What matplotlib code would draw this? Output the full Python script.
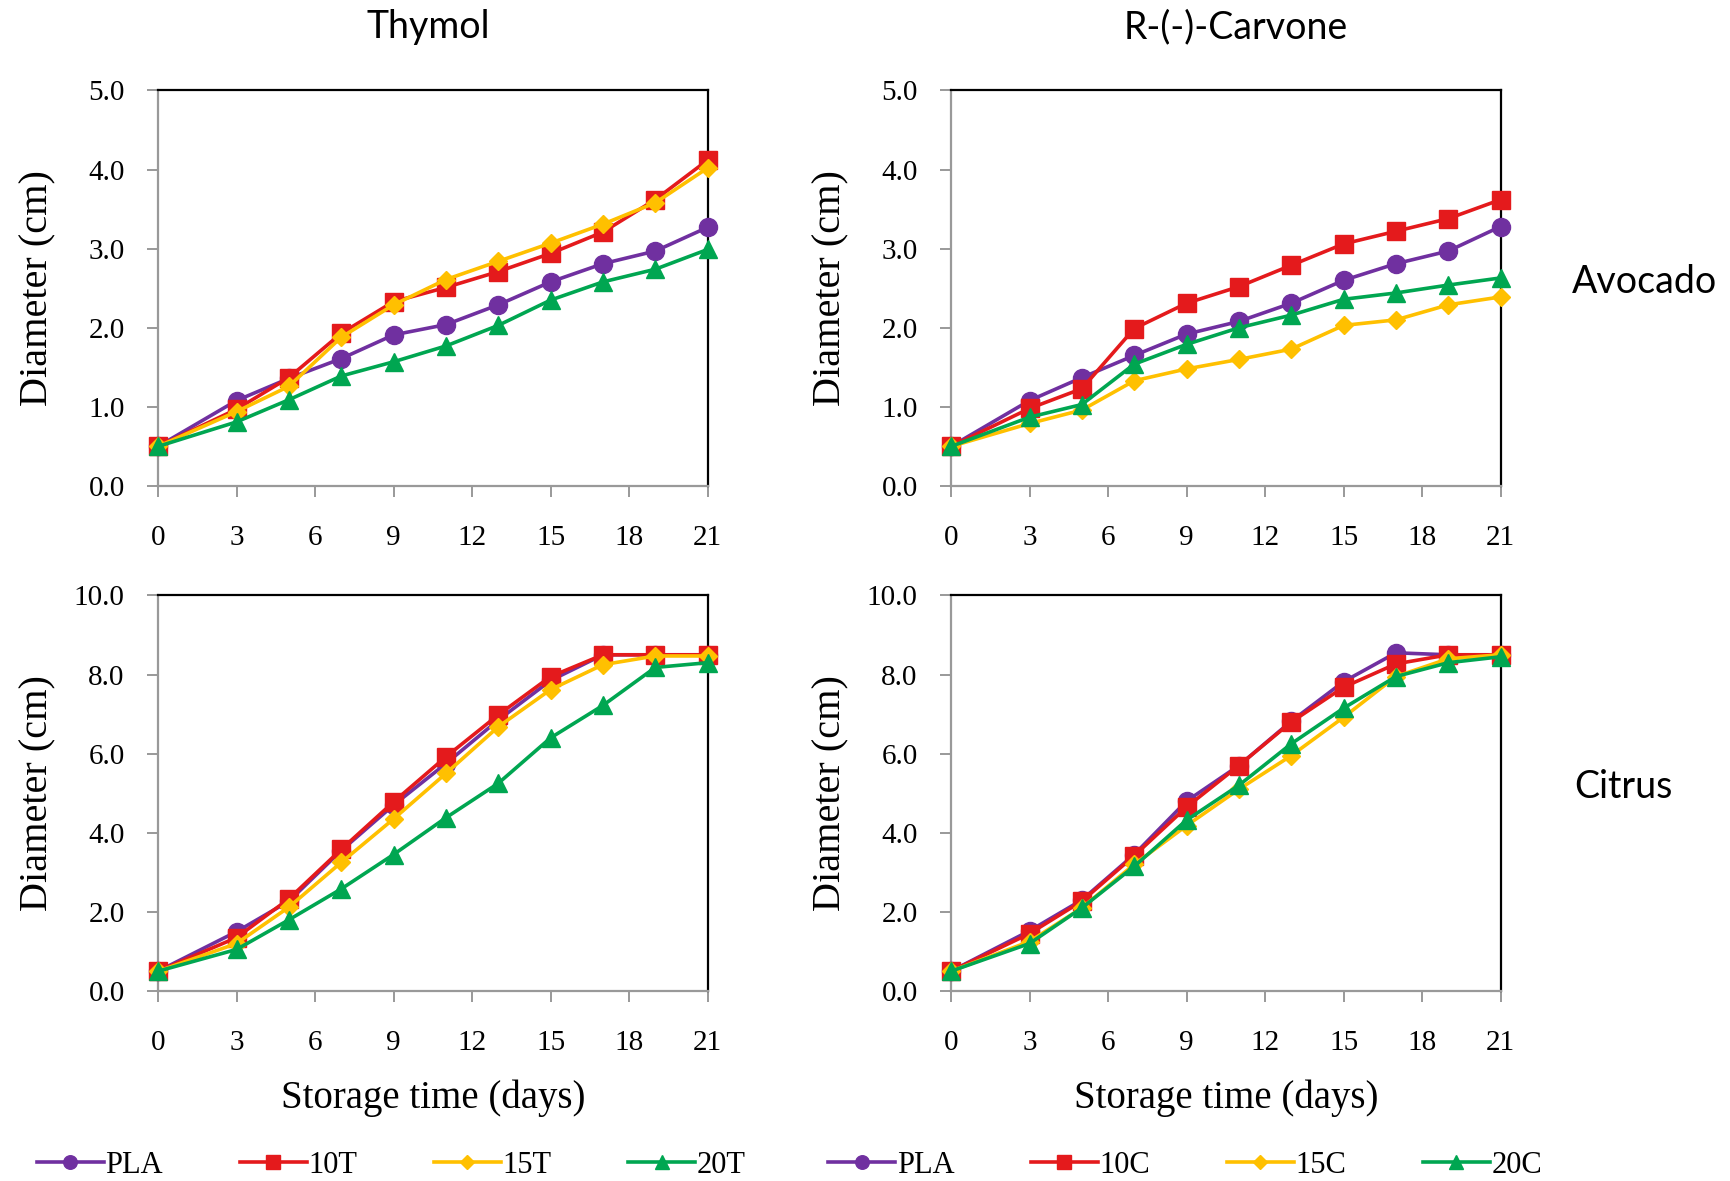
#diameter growth plots, avocado and citrus
import numpy as np
import matplotlib
matplotlib.use("Agg")
import matplotlib.pyplot as plt
from matplotlib.lines import Line2D

#storage days
days = [0, 3, 5, 7, 9, 11, 13, 15, 17, 19, 21]

#avocado, thymol
avo_thy_pla = [0.5, 1.08, 1.36, 1.61, 1.91, 2.04, 2.29, 2.58, 2.81, 2.97, 3.27]
avo_thy_10 = [0.5, 0.97, 1.37, 1.93, 2.33, 2.51, 2.71, 2.94, 3.21, 3.62, 4.12]
avo_thy_15 = [0.5, 0.94, 1.26, 1.88, 2.29, 2.61, 2.84, 3.07, 3.31, 3.58, 4.02]
avo_thy_20 = [0.5, 0.81, 1.09, 1.39, 1.57, 1.77, 2.03, 2.35, 2.58, 2.74, 2.99]

#avocado, carvone
avo_car_pla = [0.5, 1.08, 1.37, 1.65, 1.92, 2.08, 2.31, 2.60, 2.81, 2.97, 3.28]
avo_car_10 = [0.5, 0.98, 1.23, 1.99, 2.31, 2.52, 2.79, 3.06, 3.22, 3.38, 3.62]
avo_car_15 = [0.5, 0.79, 0.96, 1.33, 1.48, 1.60, 1.73, 2.03, 2.10, 2.29, 2.39]
avo_car_20 = [0.5, 0.87, 1.03, 1.54, 1.79, 2.00, 2.16, 2.36, 2.44, 2.54, 2.63]

#citrus, thymol
cit_thy_pla = [0.5, 1.50, 2.27, 3.55, 4.70, 5.75, 6.85, 7.85, 8.50, 8.50, 8.50]
cit_thy_10 = [0.5, 1.35, 2.33, 3.58, 4.78, 5.92, 6.98, 7.95, 8.50, 8.50, 8.50]
cit_thy_15 = [0.5, 1.20, 2.12, 3.25, 4.35, 5.50, 6.68, 7.62, 8.25, 8.47, 8.47]
cit_thy_20 = [0.5, 1.05, 1.80, 2.58, 3.45, 4.38, 5.25, 6.40, 7.22, 8.18, 8.30]

#citrus, carvone
cit_car_pla = [0.5, 1.52, 2.30, 3.45, 4.80, 5.70, 6.82, 7.82, 8.55, 8.50, 8.50]
cit_car_10 = [0.5, 1.45, 2.27, 3.42, 4.65, 5.70, 6.80, 7.68, 8.27, 8.50, 8.50]
cit_car_15 = [0.5, 1.25, 2.10, 3.20, 4.18, 5.10, 5.95, 6.92, 7.95, 8.40, 8.50]
cit_car_20 = [0.5, 1.20, 2.10, 3.15, 4.32, 5.20, 6.25, 7.15, 7.95, 8.30, 8.45]

left_names = ["PLA", "10T", "15T", "20T"]
right_names = ["PLA", "10C", "15C", "20C"]
col_titles = ["Thymol", "R-(-)-Carvone"]
row_names = ["Avocado", "Citrus"]

colors = ["#7030A0", "#E41A1C", "#FFC000", "#00A651"]
markers = ["o", "s", "D", "^"]
msizes = [13, 13, 9.5, 13]

serif = "Liberation Serif"

fig = plt.figure(figsize=(17.31, 11.81), dpi=100)

#axes positions
lefts = [0.0913, 0.5494]
bottoms = [0.5885, 0.1609]
w = 0.3175
h = 0.3349

panels = [
    [[avo_thy_pla, avo_thy_10, avo_thy_15, avo_thy_20],
     [avo_car_pla, avo_car_10, avo_car_15, avo_car_20]],
    [[cit_thy_pla, cit_thy_10, cit_thy_15, cit_thy_20],
     [cit_car_pla, cit_car_10, cit_car_15, cit_car_20]],
]
ymax = [5.0, 10.0]
ystep = [1.0, 2.0]

for r in range(2):
    for c in range(2):
        ax = fig.add_axes([lefts[c], bottoms[r], w, h])
        for k in range(4):
            ax.plot(days, panels[r][c][k], color=colors[k], marker=markers[k],
                    markersize=msizes[k], linewidth=2.6, clip_on=False, zorder=3)
        ax.set_xlim(0, 21)
        ax.set_ylim(0, ymax[r])
        ax.set_xticks(np.arange(0, 22, 3))
        yt = np.arange(0, ymax[r] + 0.01, ystep[r])
        ax.set_yticks(yt)
        ax.set_yticklabels([f"{v:.1f}" for v in yt])
        ax.tick_params(direction="out", length=8, width=1.2, color="#888888",
                       labelsize=21)
        ax.tick_params(axis="x", pad=20)
        ax.tick_params(axis="y", pad=16)
        for lab in ax.get_xticklabels() + ax.get_yticklabels():
            lab.set_fontfamily(serif)
        ax.spines["left"].set_color("#999999")
        ax.spines["bottom"].set_color("#999999")
        ax.spines["top"].set_color("black")
        ax.spines["right"].set_color("black")
        for s in ax.spines.values():
            s.set_linewidth(1.6)
        ax.set_ylabel("Diameter (cm)", fontsize=29, fontfamily=serif)
        ax.yaxis.set_label_coords(-0.185, 0.5)
        if r == 1:
            ax.set_xlabel("Storage time (days)", fontsize=28, fontfamily=serif)
            ax.xaxis.set_label_coords(0.5, -0.225)

#column and row titles
fig.text(0.2473, 0.977, col_titles[0], ha="center", va="center", fontsize=27, fontfamily="Lato")
fig.text(0.714, 0.977, col_titles[1], ha="center", va="center", fontsize=27, fontfamily="Lato")
fig.text(0.9503, 0.7616, row_names[0], ha="center", va="center", fontsize=27, fontfamily="Lato")
fig.text(0.9376, 0.3336, row_names[1], ha="center", va="center", fontsize=27, fontfamily="Lato")

#legends at the bottom
def make_handles():
    return [Line2D([0], [0], color=colors[k], marker=markers[k], markersize=msizes[k] * 0.75,
                   linewidth=2.6) for k in range(4)]

fig.legend(make_handles(), left_names, loc="center", bbox_to_anchor=(0.226, 0.0135), ncol=4,
           frameon=False, prop={"family": serif, "size": 22}, handlelength=2.2,
           handletextpad=0.05, columnspacing=2.5)
fig.legend(make_handles(), right_names, loc="center", bbox_to_anchor=(0.6846, 0.0135), ncol=4,
           frameon=False, prop={"family": serif, "size": 22}, handlelength=2.2,
           handletextpad=0.05, columnspacing=2.5)

fig.savefig("out.png", dpi=100)
